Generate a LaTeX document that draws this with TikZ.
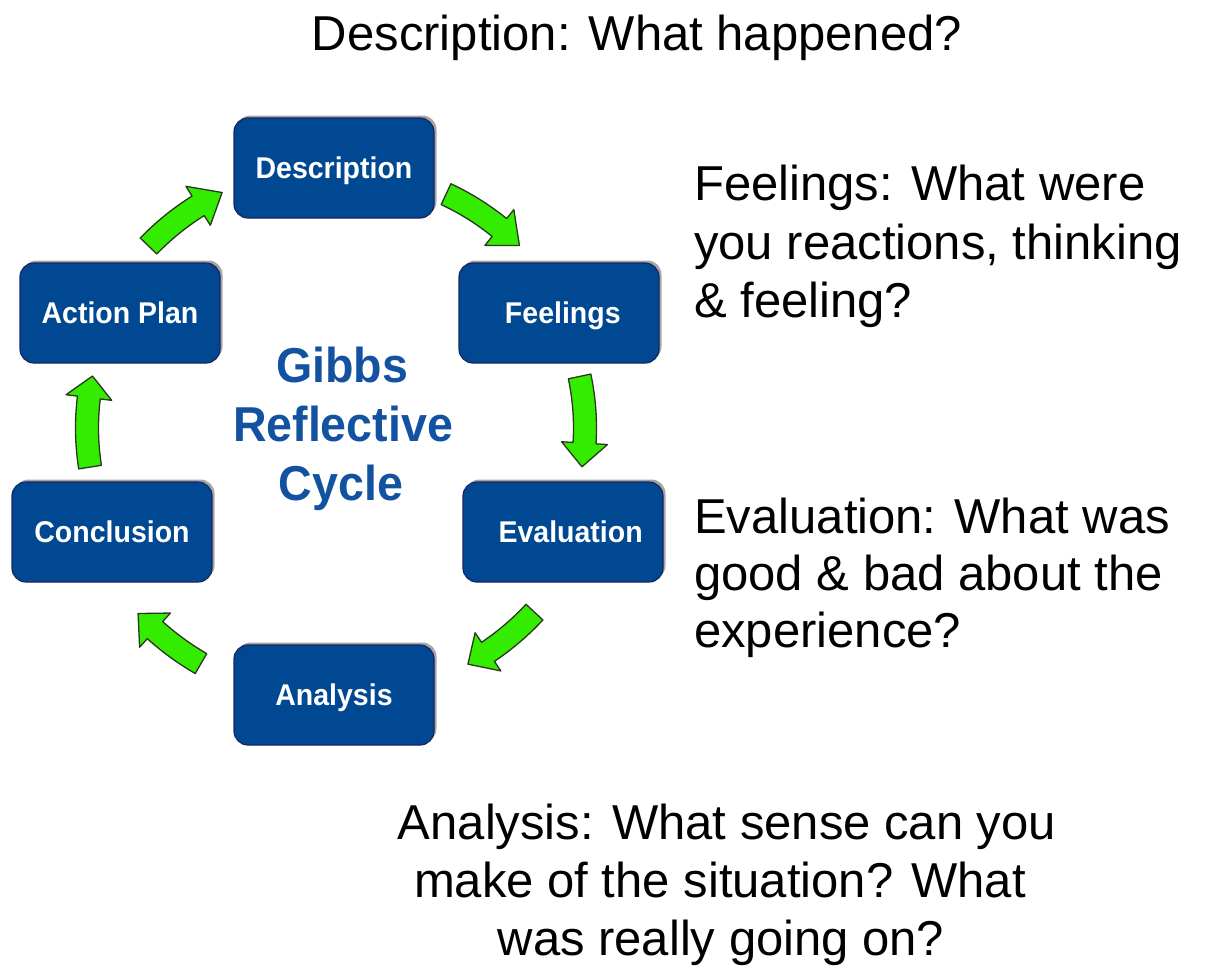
\documentclass[tikz,border=0pt]{standalone}
\usepackage{fontspec}
\usepackage{graphicx}
\setmainfont{Liberation Sans}
\usetikzlibrary{calc,shadows}
\definecolor{boxblue}{RGB}{0,72,145}
\definecolor{boxedge}{RGB}{22,38,98}
\definecolor{titleblue}{RGB}{18,82,160}
\definecolor{arrowgreen}{RGB}{52,236,0}
\definecolor{arrowedge}{RGB}{40,55,30}
\tikzset{
  stagebox/.style={draw=boxedge, line width=1.2pt, fill=boxblue, rounded corners=14pt,
    minimum width=200pt, minimum height=100pt, inner sep=0pt,
    text=white, font=\fontsize{30}{34}\bfseries\selectfont, text height=22pt, text depth=2pt,
    drop shadow={shadow xshift=2.5pt, shadow yshift=2.5pt, opacity=0.35, fill=black}},
  titletext/.style={text=titleblue, font=\fontsize{49}{58}\bfseries\selectfont, inner sep=0pt, anchor=base},
  notetext/.style={text=black, font=\fontsize{49}{58}\selectfont, inner sep=0pt},
  greenarrow/.style={fill=arrowgreen, draw=arrowedge, line width=1.3pt, line join=round}
}
\newcommand{\garrow}[4]{%
  \pgfmathsetmacro\rOut{#4+11.5}\pgfmathsetmacro\rIn{#4-11.5}%
  \pgfmathsetmacro\rHo{#4+23}\pgfmathsetmacro\rHi{#4-23}%
  \draw[greenarrow] ($(C)+(-#1:\rOut pt)$) arc[start angle=-#1, end angle=-#2, radius=\rOut pt]
    -- ($(C)+(-#2:\rHo pt)$) -- ($(C)+(-#3:#4pt)$) -- ($(C)+(-#2:\rHi pt)$)
    -- ($(C)+(-#2:\rIn pt)$) arc[start angle=-#2, end angle=-#1, radius=\rIn pt] -- cycle;}
\begin{document}
\begin{tikzpicture}[x=1pt, y=1pt, yscale=-1]
\useasboundingbox (0,0) rectangle (1218,969);
\coordinate (C) at (337,428);

% stage boxes
\node[stagebox] (desc) at (334,168) {\scalebox{0.95}[1]{Description}};
\node[stagebox] (feel) at (559,313) {\scalebox{0.95}[1]{\hspace*{8pt}Feelings}};
\node[stagebox] (eval) at (563,532) {\scalebox{0.95}[1]{\hspace*{16pt}Evaluation}};
\node[stagebox] (anal) at (334,695) {\scalebox{0.95}[1]{Analysis}};
\node[stagebox] (conc) at (112,532) {\scalebox{0.95}[1]{Conclusion}};
\node[stagebox] (plan) at (120,313) {\scalebox{0.95}[1]{Action Plan}};

% centre title
\node[titletext] (t1) at (342,382) {\scalebox{0.95}[1]{Gibbs}};
\node[titletext] (t2) at (343,441) {\scalebox{0.95}[1]{Reflective}};
\node[titletext] (t3) at (341,500) {\scalebox{0.95}[1]{Cycle}};

% green curved arrows
\garrow{136}{122}{116}{262}
\garrow{65}{51}{45}{258}
\garrow{12}{-3.5}{-9}{248}
\garrow{-43}{-56}{-61}{270}
\garrow{240}{228}{223}{272}
\garrow{189}{173}{168}{250}

% notes
\node[notetext, anchor=base] (ndesc) at (637,50) {Description: What happened?};
\node[notetext, anchor=base west] (nf1) at (694,200) {Feelings: What were};
\node[notetext, anchor=base west] (nf2) at (694,259) {you reactions, thinking};
\node[notetext, anchor=base west] (nf3) at (694,317) {\& feeling?};
\node[notetext, anchor=base west] (ne1) at (694,533) {Evaluation: What was};
\node[notetext, anchor=base west] (ne2) at (694,590) {good \& bad about the};
\node[notetext, anchor=base west] (ne3) at (694,647) {experience?};
\node[notetext, anchor=base] (na1) at (727,839) {Analysis: What sense can you};
\node[notetext, anchor=base] (na2) at (720,897) {make of the situation? What};
\node[notetext, anchor=base] (na3) at (721,955) {was really going on?};
\end{tikzpicture}
\end{document}
